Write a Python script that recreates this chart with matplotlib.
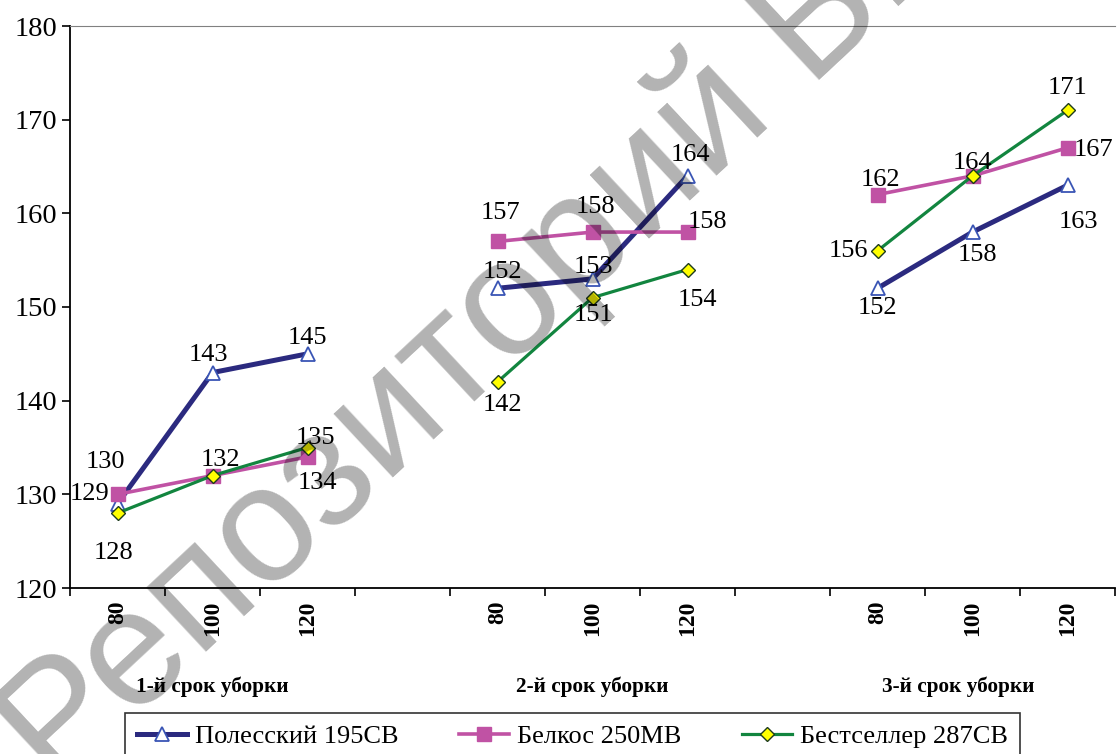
import numpy as np
import matplotlib.pyplot as plt

# категории по оси X (три срока уборки, между ними пустые места)
doses = ['80', '100', '120', '', '80', '100', '120', '', '80', '100', '120']
groups = ['1-й срок уборки', '2-й срок уборки', '3-й срок уборки']

polessky = [129, 143, 145, np.nan, 152, 153, 164, np.nan, 152, 158, 163]
belkos = [130, 132, 134, np.nan, 157, 158, 158, np.nan, 162, 164, 167]
bestseller = [128, 132, 135, np.nan, 142, 151, 154, np.nan, 156, 164, 171]

names = ['Полесский 195СВ', 'Белкос 250МВ', 'Бестселлер 287СВ']

# смещения подписей (пиксели), None - без подписи
off_pol = [(-28, 10), (-4, 18), (0, 16), None, (5, 16), (1, 12), (3, 21), None, (0, -20), (5, -23), (11, -37)]
off_bel = [(-12, 32), (8, 16), (10, -26), None, (3, 28), (3, 25), (20, 10), None, (3, 15), (0, 13), (26, -2)]
off_bes = [(-4, -40), None, (8, 10), None, (5, -23), (1, -17), (10, -30), None, (-29, 0), None, (0, 22)]

plt.rcParams['font.family'] = 'Liberation Serif'

fig = plt.figure(figsize=(11.17, 7.54), dpi=100)
ax = fig.add_axes([70 / 1117, 166 / 754, 1045 / 1117, 562 / 754])

x = np.arange(len(doses))
styles = [
    dict(color='#2b2a7f', lw=3.6, marker='^', ms=10, mfc='white', mec='#3a55b5', mew=1.3),
    dict(color='#c052a4', lw=2.6, marker='s', ms=10, mfc='#c052a4', mec='#c052a4'),
    dict(color='#12853f', lw=2.3, marker='D', ms=7, mfc='#ffff00', mec='#1d3b1d', mew=1.0),
]
series = [polessky, belkos, bestseller]
offsets = [off_pol, off_bel, off_bes]

for vals, st, name, offs in zip(series, styles, names, offsets):
    ax.plot(x, vals, label=name, **st)
    for xi, v, o in zip(x, vals, offs):
        if o is None or np.isnan(v):
            continue
        ax.annotate(str(int(v)), (xi, v), xytext=o, textcoords='offset pixels',
                    ha='center', va='center', fontsize=19)

ax.set_xlim(-0.5, len(doses) - 0.5)
ax.set_ylim(120, 180)
ax.set_yticks(range(120, 181, 10))
ax.tick_params(axis='y', labelsize=20.5, direction='out', length=6, width=1.2, pad=3)

ax.set_xticks(x)
ax.set_xticklabels(doses, rotation=90, fontsize=17, fontweight='bold')
ax.set_xticks(np.arange(-0.5, len(doses)), minor=True)
ax.tick_params(axis='x', which='major', length=0, pad=9)
ax.tick_params(axis='x', which='minor', direction='out', length=6, width=1.2)

ax.spines['right'].set_visible(False)
ax.spines['top'].set_color('#808080')
ax.spines['left'].set_linewidth(1.3)
ax.spines['bottom'].set_linewidth(1.3)

for gx, g in zip([1, 5, 8.85], groups):
    ax.text(gx, -0.175, g, transform=ax.get_xaxis_transform(), ha='center', va='center',
            fontsize=15.3, fontweight='bold')

leg = fig.legend(loc='upper left', bbox_to_anchor=(125 / 1117, 1 - 713 / 754), ncol=3,
                 fontsize=19, frameon=True, fancybox=False, edgecolor='black',
                 handlelength=1.9, handletextpad=0.3, columnspacing=2.3, borderpad=0.45,
                 borderaxespad=0)
leg.get_frame().set_linewidth(1.2)

# водяной знак
fig.text(56 / 1117, 1 - 792 / 754, 'Репозиторий БГАТУ', rotation=43, rotation_mode='anchor',
         ha='left', va='baseline', fontsize=119, family='Liberation Sans',
         color='black', alpha=0.3, zorder=10)

fig.savefig('out.png', dpi=100)
